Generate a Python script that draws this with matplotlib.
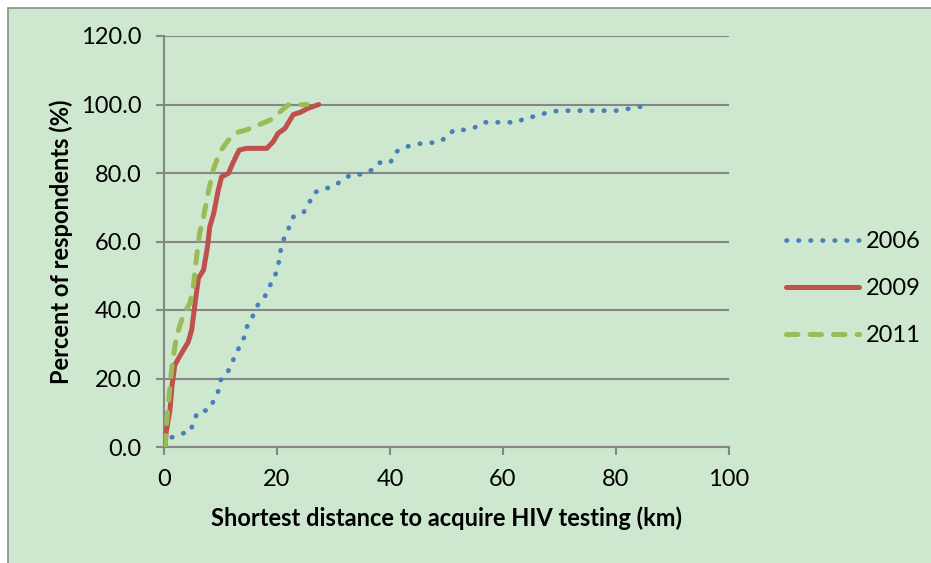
import matplotlib
matplotlib.use('Agg')
import matplotlib.pyplot as plt
from matplotlib.patches import Rectangle

# cumulative percent of respondents vs shortest distance (km)
km_2006 = [0.2, 1.2, 2.8, 4.7, 5.2, 6.0, 7.9, 8.8, 9.6, 10.0, 11.2, 12.0, 12.7, 13.6, 14.4,
           14.8, 15.9, 16.7, 17.9, 18.7, 19.6, 20.2, 20.5, 20.8, 21.4, 22.2, 22.9, 24.7, 25.7,
           26.4, 28.0, 30.0, 31.4, 33.2, 35.2, 36.8, 38.1, 40.1, 40.9, 42.4, 44.3, 46.3, 48.3,
           50.0, 51.3, 53.3, 55.0, 56.5, 58.5, 60.5, 62.5, 64.1, 66.1, 67.8, 69.9, 71.9, 74.0,
           76.0, 78.0, 80.0, 82.0, 84.0, 86.3]
pct_2006 = [0.0, 2.7, 3.8, 4.5, 7.4, 10.3, 10.8, 13.5, 16.3, 19.5, 21.6, 24.4, 27.2, 30.0, 32.8,
            35.9, 38.7, 41.8, 44.1, 47.0, 49.7, 52.8, 56.0, 58.7, 61.7, 64.3, 67.2, 68.5, 71.2,
            74.1, 75.3, 76.0, 77.8, 79.6, 79.6, 80.9, 83.0, 83.1, 86.0, 87.4, 88.3, 88.8, 88.9,
            90.3, 92.6, 92.6, 93.3, 94.8, 94.8, 94.8, 94.8, 96.2, 96.6, 97.7, 98.2, 98.2, 98.2,
            98.2, 98.2, 98.2, 98.7, 99.3, 99.7]

km_2009 = [0.2, 0.35, 1.06, 1.4, 1.9, 3.1, 4.3, 4.9, 5.5, 6.1, 7.0, 7.7, 8.1, 8.8, 9.6, 10.2,
           11.4, 12.3, 13.3, 14.6, 18.2, 19.3, 20.2, 21.4, 22.9, 24.1, 25.5, 27.4]
pct_2009 = [0.0, 4.0, 10.8, 17.6, 23.9, 27.4, 30.7, 34.2, 42.0, 49.3, 51.7, 58.5, 64.3, 68.2,
            75.0, 78.9, 79.9, 83.3, 86.7, 87.2, 87.2, 89.1, 91.6, 93.0, 97.1, 97.7, 98.9, 100.0]

km_2011 = [0.2, 0.5, 0.95, 1.4, 2.2, 3.4, 4.6, 5.2, 5.7, 6.3, 7.0, 7.8, 8.7, 9.9, 11.4, 12.9,
           14.6, 16.4, 18.8, 20.2, 22.0, 23.5, 25.3]
pct_2011 = [0.0, 7.9, 15.7, 23.4, 32.2, 38.5, 42.0, 46.8, 54.6, 62.4, 67.2, 74.1, 80.9, 86.2,
            89.6, 91.8, 92.6, 93.8, 95.5, 97.4, 99.9, 99.9, 100.0]

bg = '#cde8cf'
grid_col = '#868686'
font = ['Lato', 'DejaVu Sans']
fs = 17

fig = plt.figure(figsize=(9.31, 5.63), dpi=100, facecolor='white')
fig.patches.append(Rectangle((8/931, -0.1), 1.1, 1.1 - 8/563, transform=fig.transFigure,
                             facecolor=bg, edgecolor='#8c8c8c', lw=1.2, zorder=-10))
ax = fig.add_axes([164/931, 1 - 447/563, (729-164)/931, (447-36)/563])
ax.set_facecolor('none')
ax.set_zorder(5)

ax.plot(km_2006, pct_2006, color='#4a7ebb', lw=3.4, linestyle=(0, (0.1, 2.45)),
        dash_capstyle='round', label='2006', zorder=3)
ax.plot(km_2009, pct_2009, color='#c0504d', lw=3.6, solid_capstyle='round',
        solid_joinstyle='round', label='2009', zorder=4)
ax.plot(km_2011, pct_2011, color='#9bbb59', lw=3.6, linestyle=(0, (2.3, 2.4)),
        dash_capstyle='round', label='2011', zorder=5)

ax.set_xlim(0, 100)
ax.set_ylim(0, 120)
ax.set_xticks(range(0, 101, 20))
ax.set_yticks(range(0, 121, 20))
ax.set_yticklabels(['%.1f' % v for v in range(0, 121, 20)])
ax.yaxis.grid(True, color=grid_col, lw=1.5)
ax.set_axisbelow(True)
for s in ['top', 'right']:
    ax.spines[s].set_visible(False)
for s in ['left', 'bottom']:
    ax.spines[s].set_color(grid_col)
    ax.spines[s].set_linewidth(1.5)
ax.tick_params(axis='both', direction='out', length=6, width=1.5, color=grid_col,
               labelsize=fs, pad=10)
for lab in ax.get_xticklabels() + ax.get_yticklabels():
    lab.set_family(font)

ax.set_xlabel('Shortest distance to acquire HIV testing (km)', fontsize=fs,
              fontweight='bold', family=font, labelpad=12)
ax.set_ylabel('Percent of respondents (%)', fontsize=fs, fontweight='bold',
              family=font, labelpad=6)

leg = ax.legend(loc='center left', bbox_to_anchor=(1.10, 0.385), frameon=False,
                prop={'family': font, 'size': fs}, handlelength=3.1, labelspacing=1.1,
                borderaxespad=0, borderpad=0, handletextpad=0.3)

fig.savefig('out.png', dpi=100, facecolor='white')
